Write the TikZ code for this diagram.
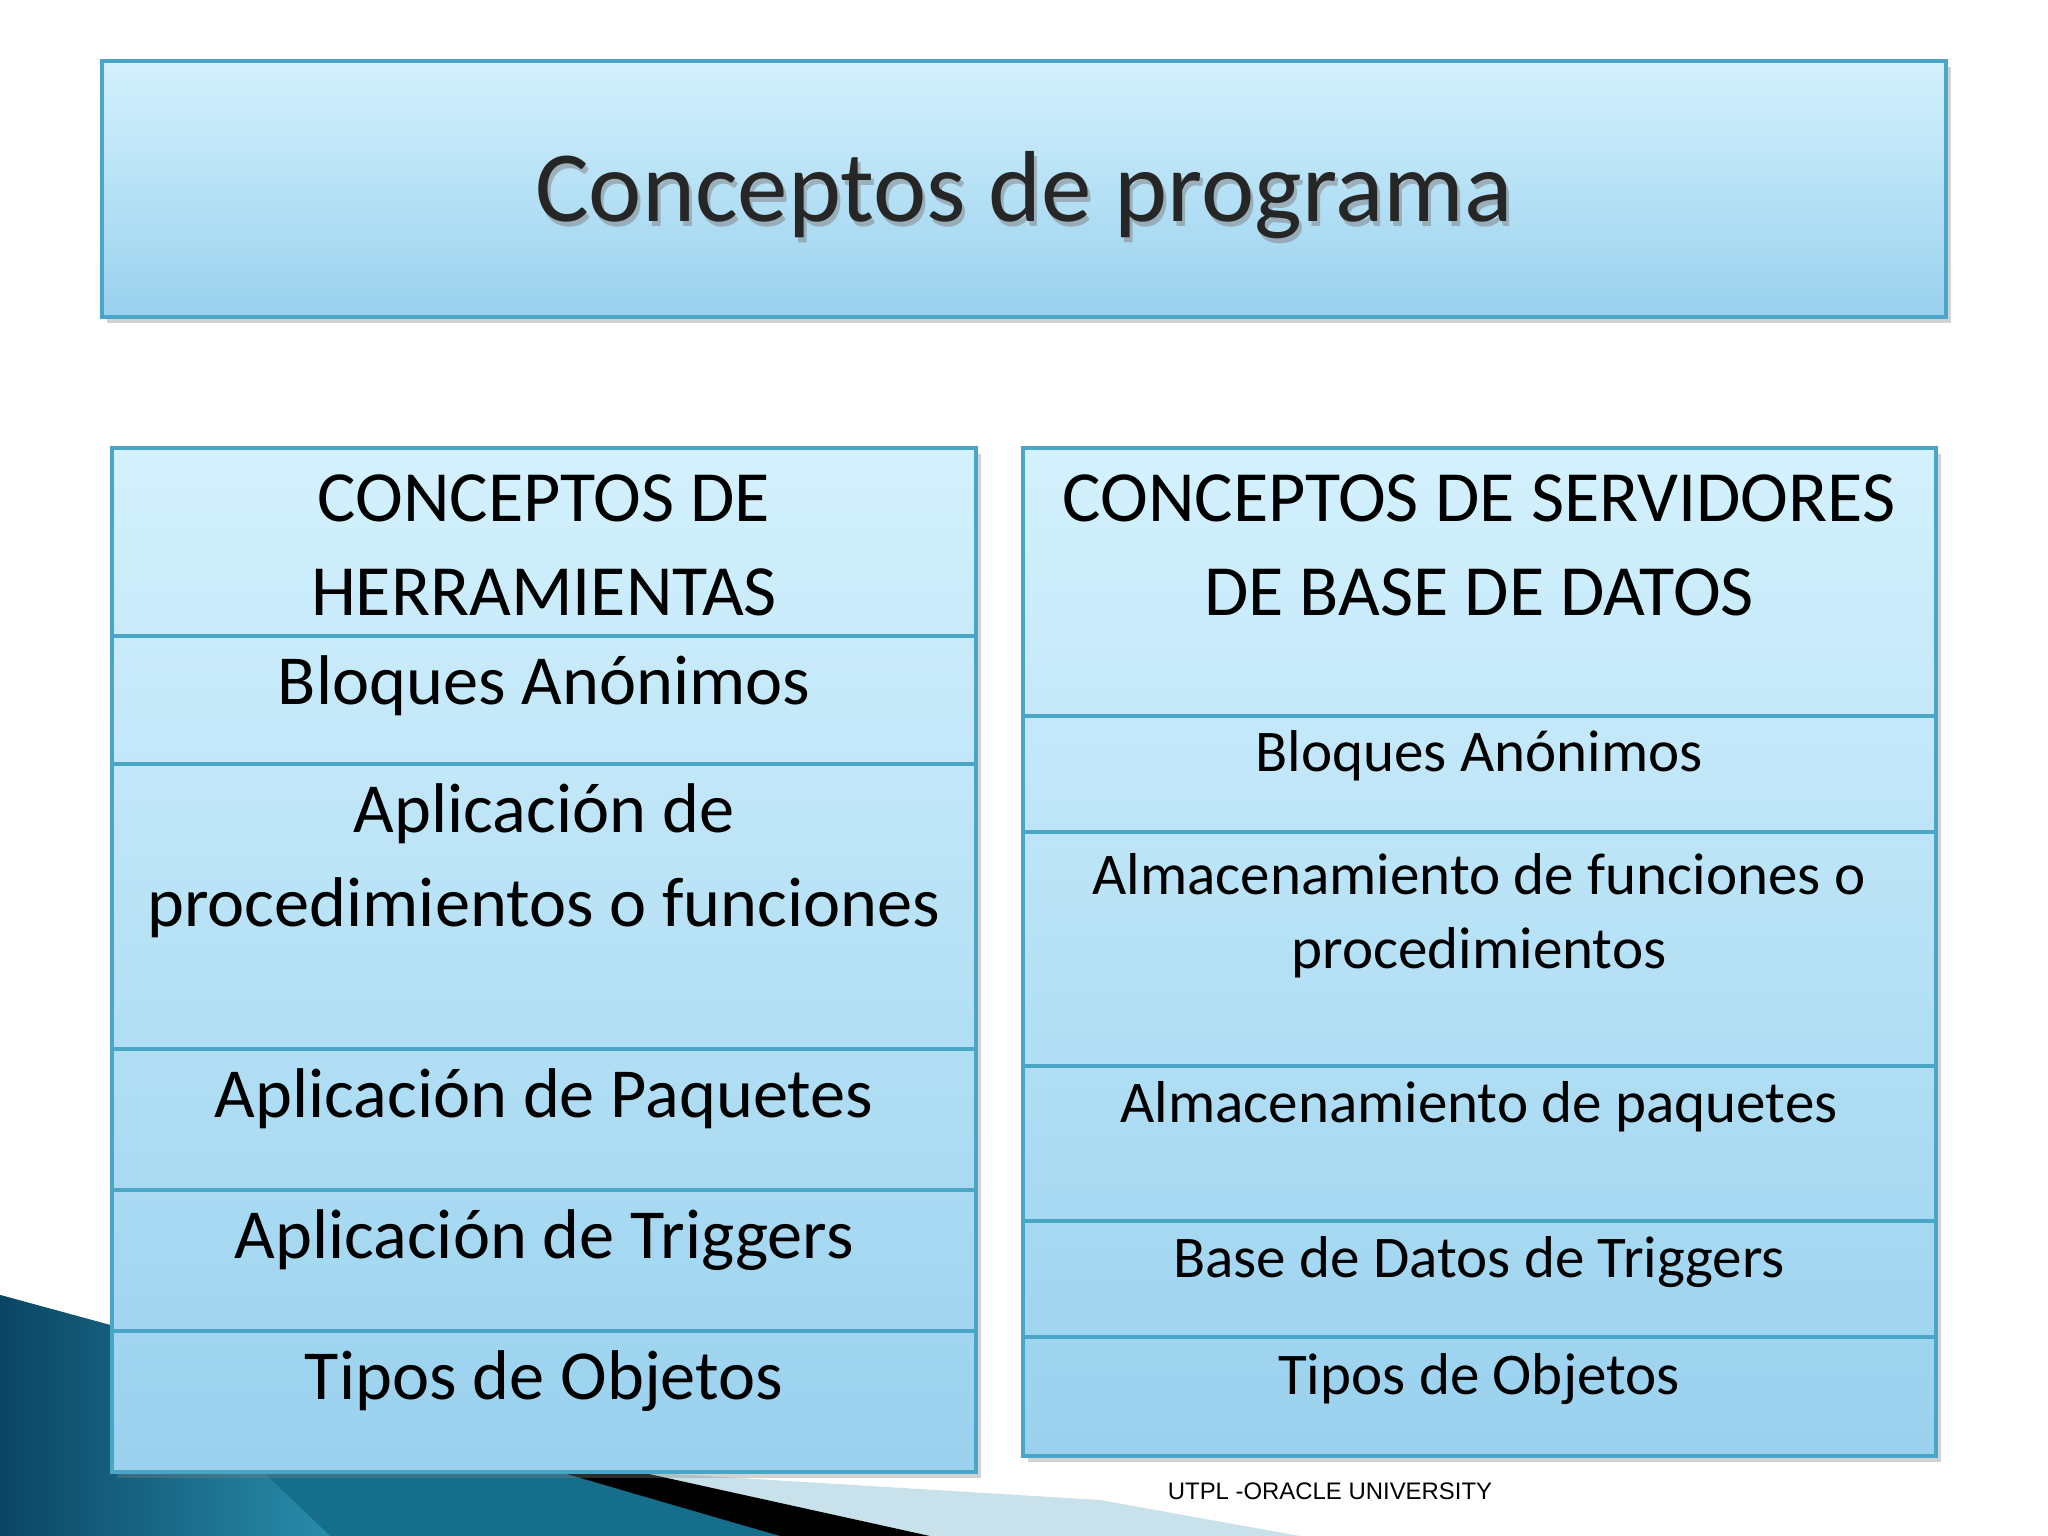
\documentclass[tikz,border=0pt]{standalone}
\usepackage{fontspec}
\setmainfont{Carlito}
\newfontfamily\footfont{Liberation Sans}
\usetikzlibrary{shadows}
\definecolor{topc}{HTML}{D4F1FD}
\definecolor{botc}{HTML}{99D1EE}
\definecolor{edge}{HTML}{4AA6C6}
\tikzset{
 panel/.style={draw=edge,line width=1.2pt,top color=topc,bottom color=botc,drop shadow={shadow xshift=0.05cm,shadow yshift=-0.06cm,opacity=0.35}},
 sep/.style={draw=edge,line width=1.2pt},
 ltxt/.style={font=\fontsize{20}{24}\selectfont,anchor=center,align=center},
 rtxt/.style={font=\fontsize{16.8}{20}\selectfont,anchor=center,align=center},
 htxt/.style={font=\fontsize{20.5}{24}\selectfont,anchor=center,align=center}
}
\begin{document}
\begin{tikzpicture}[x=0.01cm,y=-0.01cm]
\useasboundingbox (0,0) rectangle (2048,1536);
\fill[white] (0,0) rectangle (2048,1536);
% bottom-left decoration
\fill[color={rgb,255:red,200;green,225;blue,235}] (640,1472) -- (1100,1500) -- (1300,1536) -- (930,1536) -- cycle;
\fill[color={rgb,255:red,20;green,110;blue,140}] (0,1295) -- (110,1325) -- (560,1470) -- (780,1536) -- (0,1536) -- cycle;
\shade[left color={rgb,255:red,10;green,70;blue,100},right color={rgb,255:red,40;green,140;blue,170}] (0,1295) -- (110,1325) -- (330,1536) -- (0,1536) -- cycle;
\fill[black] (560,1472) -- (640,1472) -- (930,1536) -- (780,1536) -- cycle;
% title
\path[panel] (102,61) rectangle (1946,317);
\node[font=\fontsize{28.7}{34}\selectfont,text=black!50,opacity=0.5] at (1027,200) {Conceptos de programa};
\node[font=\fontsize{28.7}{34}\selectfont,text=black!85] (title) at (1024,195) {Conceptos de programa};
% left table
\path[panel] (112,448) rectangle (976,1472);
\draw[sep] (112,636) -- (976,636);
\draw[sep] (112,764) -- (976,764);
\draw[sep] (112,1049) -- (976,1049);
\draw[sep] (112,1190) -- (976,1190);
\draw[sep] (112,1331) -- (976,1331);
\node[htxt] (l0a) at (544,498) {CONCEPTOS DE};
\node[htxt] (l0b) at (544,592) {HERRAMIENTAS};
\node[ltxt] (l1) at (544,686) {Bloques Anónimos};
\node[ltxt] (l2a) at (544,814) {Aplicación de};
\node[ltxt] (l2b) at (544,908) {procedimientos o funciones};
\node[ltxt] (l3) at (544,1099) {Aplicación de Paquetes};
\node[ltxt] (l4) at (544,1240) {Aplicación de Triggers};
\node[ltxt] (l5) at (544,1381) {Tipos de Objetos};
% right table
\path[panel] (1023,448) rectangle (1936,1456);
\draw[sep] (1023,716) -- (1936,716);
\draw[sep] (1023,832) -- (1936,832);
\draw[sep] (1023,1066) -- (1936,1066);
\draw[sep] (1023,1221) -- (1936,1221);
\draw[sep] (1023,1337) -- (1936,1337);
\node[htxt] (r0a) at (1479,498) {CONCEPTOS DE SERVIDORES};
\node[htxt] (r0b) at (1479,592) {DE BASE DE DATOS};
\node[rtxt] (r1) at (1479,756) {Bloques Anónimos};
\node[rtxt] (r2a) at (1479,874) {Almacenamiento de funciones o};
\node[rtxt] (r2b) at (1479,953) {procedimientos};
\node[rtxt] (r3) at (1479,1107) {Almacenamiento de paquetes};
\node[rtxt] (r4) at (1479,1262) {Base de Datos de Triggers};
\node[rtxt] (r5) at (1479,1379) {Tipos de Objetos};
\node[font=\footfont\fontsize{6.8}{8}\selectfont] (foot) at (1330,1491) {UTPL -ORACLE UNIVERSITY};
\end{tikzpicture}
\end{document}
